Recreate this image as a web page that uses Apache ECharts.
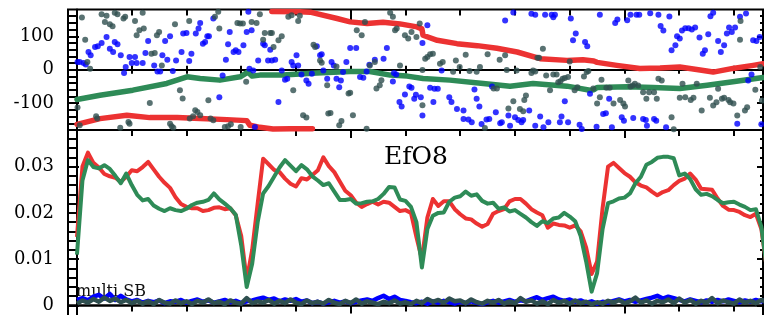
<!DOCTYPE html>
<html>
<head>
<meta charset="utf-8">
<script src="https://cdn.jsdelivr.net/npm/echarts@6/dist/echarts.min.js"></script>
<style>
  html, body { margin: 0; padding: 0; background: #fff; }
  #chart { width: 764px; height: 315px; }
</style>
</head>
<body>
<div id="chart"></div>
<script>
// ---- data (x in tick units, top panel in degrees) ----
var redTopLow = [[0,-163],[0.42,-146],[0.91,-136],[1.33,-143],[1.83,-143],[2.25,-146],[2.74,-149],[3.10,-152],
  [3.16,-166],[3.34,-172],[3.58,-177],[3.9,-176],[4.3,-176]];
var redTopHigh = [[3.56,174],[4.07,173],[4.26,172],[4.75,153],[4.99,143],[5.30,138],[5.59,142],[5.90,137],[6.21,128],[6.30,122],
  [6.32,103],[6.58,88],[6.94,78],[7.31,72],[7.67,64],[8.04,53],[8.46,33],[8.95,28],[9.24,30],[9.44,26],[9.50,22],
  [9.86,13],[10.28,4],[10.65,5],[11.01,8],[11.38,-1],[11.62,-7],[11.98,4],[12.35,13],[12.53,18]];
var greenTop = [[0,-89],[0.42,-76],[1.02,-61],[1.64,-41],[2.01,-21],[2.25,-26],[2.61,-31],[2.98,-21],[3.12,-7],[3.20,-19],
  [3.34,-16],[3.76,-16],[4.38,-10],[4.99,-5],[5.35,-5],[5.72,-16],[6.03,-19],[6.32,-26],[6.81,-31],[7.42,-41],[7.91,-49],
  [8.33,-41],[8.95,-49],[9.37,-61],[9.44,-60],[9.50,-53],[10.05,-51],[10.52,-53],[11.01,-56],[11.51,-46],[11.98,-36],[12.53,-23]];

var blueDots = [[0.01,23],[0.05,23],[0.12,20],[0.16,16],[0.21,53],[0.25,43],[0.33,68],[0.38,70],[0.45,80],[0.54,98],[0.60,63],[0.66,53],
  [0.69,83],[0.74,76],[0.80,43],[0.86,-10],[0.89,8],[0.96,38],[1.00,20],[1.06,38],[1.09,20],[1.20,20],[1.25,50],[1.30,86],[1.41,13],
  [1.47,-5],[1.52,-5],[1.56,43],[1.61,86],[1.65,30],[1.70,100],[1.75,-4],[1.81,28],[1.91,53],[1.94,108],[2.00,110],[2.05,26],[2.09,48],
  [2.17,108],[2.22,123],[2.25,140],[2.30,78],[2.34,83],[2.38,100],[2.41,100],[2.49,153],[2.60,-82],[2.66,-17],[2.72,30],[2.76,76],
  [2.79,113],[2.86,53],[2.90,58],[2.95,53],[3.04,73],[3.10,113],[3.13,173],[3.15,3],[3.25,-171],[3.31,28],[3.19,118],[3.22,-2],
  [3.40,78],[3.43,73],[3.49,28],[3.53,60],[3.56,28],[3.62,30],[3.68,-96],[3.74,-2],[3.80,-30],[3.84,-27],[3.92,23],[3.95,13],
  [4.01,43],[4.04,13],[4.10,-14],[4.19,-32],[4.23,-42],[4.29,-12],[4.38,70],[4.44,43],[4.47,46],[4.50,-2],[4.57,-27],[4.65,23],
  [4.69,13],[4.74,-27],[4.79,-52],[4.82,-32],[4.86,-7],[4.92,23],[4.99,65],[5.10,65],[5.17,-22],[5.23,-24],[5.29,-5],[5.34,15],
  [5.44,30],[5.60,33],[5.66,65],[5.77,-35],[5.79,-10],[5.83,-14],[5.89,-96],[5.93,-110],[5.99,-74],[6.07,-50],[6.11,-54],[6.16,-87],
  [6.19,-75],[6.28,-82],[6.31,-137],[6.31,80],[6.40,133],[6.45,-54],[6.51,-96],[6.53,-57],[6.59,-57],[6.66,-2],[6.80,-82],[6.84,-96],
  [6.94,-117],[7.06,-122],[7.06,-147],[7.15,-149],[7.21,-157],[7.26,-59],[7.30,-87],[7.35,-110],[7.39,-162],[7.48,-149],[7.53,-147],
  [7.58,-50],[7.65,-127],[7.73,-160],[7.82,147],[7.88,-137],[7.97,171],[8.30,167],[8.37,164],[7.76,-157],[7.91,-167],[8.00,-142],
  [8.06,-150],[8.12,-157],[8.15,-150],[8.26,-122],[8.37,-167],[8.46,-140],[8.52,-172],[8.61,-157],[8.55,164],[8.67,164],[8.73,164],
  [8.70,157],[8.82,-157],[8.85,-140],[8.97,-157],[8.91,-94],[9.02,153],[9.06,88],[9.11,108],[9.18,-164],[9.22,-177],[9.28,83],
  [9.32,70],[9.37,-72],[9.49,-170],[9.55,164],[9.61,-132],[9.66,-130],[9.72,-87],[9.77,-172],[9.83,140],[9.87,150],[9.95,-142],
  [9.99,-152],[10.05,148],[10.11,164],[10.22,164],[10.27,164],[10.16,-144],[10.34,-147],[10.39,-150],[10.41,-167],[10.47,169],
  [10.54,-147],[10.58,-152],[10.62,164],[10.66,131],[10.71,117],[10.76,-172],[10.82,159],[10.86,58],[10.93,73],[10.96,100],
  [11.01,93],[11.05,117],[11.11,124],[11.17,124],[11.23,120],[11.29,126],[11.37,96],[11.43,48],[11.47,58],[11.53,106],[11.57,160],
  [11.62,170],[11.71,86],[11.76,53],[11.82,73],[11.87,108],[11.91,126],[11.96,113],[12.02,126],[12.06,-161],[12.11,158],[12.22,168],
  [12.26,-32],[12.32,-14],[12.35,88],[12.41,86],[12.47,98],[12.50,-163]];

var grayDots = [[0.01,-113],[0.05,-166],[0.09,156],[0.15,90],[0.19,23],[0.24,3],[0.35,-139],[0.37,-146],[0.45,166],[0.54,161],[0.51,143],
  [0.60,136],[0.65,130],[0.69,170],[0.74,166],[0.85,153],[0.88,158],[0.79,-173],[0.94,-156],[0.96,-161],[1.06,146],[1.09,103],
  [1.14,118],[1.22,123],[1.20,170],[1.33,-99],[1.36,48],[1.42,50],[1.46,103],[1.50,113],[1.55,13],[1.70,-161],[1.73,-169],[1.76,-173],
  [1.79,136],[1.88,-61],[1.93,-86],[2.05,146],[2.06,-146],[2.12,-139],[2.16,-121],[2.20,-126],[2.25,-136],[2.40,-91],[2.44,-146],
  [2.49,-151],[2.52,158],[2.58,173],[2.60,123],[2.70,-171],[2.76,-169],[2.81,-163],[2.93,140],[2.98,138],[3.03,138],[2.99,-171],
  [3.09,-36],[3.19,143],[3.28,140],[3.34,166],[3.40,90],[3.43,110],[3.53,110],[3.56,110],[3.59,68],[3.68,88],[3.74,100],[3.86,158],
  [3.92,163],[4.07,161],[4.04,146],[3.95,-61],[4.13,-136],[4.19,-143],[4.32,75],[4.35,68],[4.44,28],[4.47,21],[4.57,-46],[4.59,-131],
  [4.63,-129],[4.74,10],[4.79,-166],[4.83,-153],[4.96,-71],[4.99,-69],[5.04,-136],[5.11,118],[5.20,103],[5.26,143],[5.29,-176],
  [5.35,13],[5.44,23],[5.47,-56],[5.53,-46],[5.56,-31],[5.72,170],[5.77,158],[5.81,118],[5.84,123],[5.90,13],[5.99,103],[6.05,93],
  [6.11,113],[6.20,98],[6.26,138],[6.31,-1],[6.31,-106],[6.36,33],[6.40,38],[6.45,46],[6.50,48],[6.63,18],[6.68,23],[6.87,-6],
  [6.92,28],[6.99,8],[7.10,45],[7.17,-4],[7.30,-6],[7.36,8],[7.45,-174],[7.50,46],[7.61,-56],[7.67,-56],[7.72,30],[7.85,-1],
  [7.88,-116],[7.82,43],[7.97,-94],[8.03,-2],[8.17,-90],[8.20,-77],[8.09,-117],[8.15,-124],[8.30,-10],[8.33,-2],[8.37,-5],[8.41,36],
  [8.44,36],[8.51,63],[8.57,-17],[8.64,-61],[8.70,-14],[8.76,-14],[8.79,-37],[8.83,-34],[8.87,-27],[8.91,-25],[8.97,-22],[9.00,25],
  [9.09,-61],[9.14,-52],[9.26,-20],[9.31,-7],[9.34,-4],[9.43,-56],[9.50,-101],[9.55,-82],[9.58,-30],[9.67,-54],[9.73,-54],[9.80,-101],
  [9.92,-90],[9.98,-101],[10.01,-110],[10.07,-32],[10.11,-50],[10.15,-47],[10.19,-42],[10.25,-47],[10.34,-67],[10.40,-87],[10.45,-67],
  [10.54,-67],[10.59,-87],[10.62,-27],[10.68,-32],[10.86,-142],[10.90,-178],[11.01,-84],[11.06,-42],[11.11,-82],[11.21,-90],
  [11.26,-84],[11.32,-42],[11.41,-122],[11.56,-84],[11.62,-107],[11.68,-97],[11.71,-57],[11.78,-87],[11.82,-84],[11.90,-90],
  [11.93,-97],[11.99,-101],[12.06,-137],[12.11,90],[12.12,146],[12.20,-122],[12.24,-112],[12.39,-60],[12.48,8],[12.51,-92]];

// bottom panel: one value every 0.1 x-unit, starting at x = 0
var step = 0.1;
var redEff = [0.0148,0.0300,0.0330,0.0308,0.0298,0.0284,0.0279,0.0276,0.0267,0.0278,
  0.0292,0.0290,0.0299,0.0310,0.0294,0.0278,0.0265,0.0254,0.0234,0.0219,
  0.0213,0.0210,0.0210,0.0204,0.0206,0.0211,0.0212,0.0208,0.0210,0.0195,
  0.0150,0.0055,0.0120,0.0220,0.0317,0.0305,0.0293,0.0288,0.0274,0.0263,
  0.0257,0.0275,0.0272,0.0282,0.0292,0.0320,0.0301,0.0288,0.0268,0.0248,
  0.0238,0.0222,0.0213,0.0219,0.0224,0.0218,0.0224,0.0222,0.0213,0.0204,
  0.0206,0.0200,0.0148,0.0100,0.0190,0.0230,0.0215,0.0225,0.0225,0.0208,
  0.0197,0.0188,0.0186,0.0177,0.0170,0.0176,0.0198,0.0204,0.0208,0.0225,
  0.0230,0.0230,0.0220,0.0208,0.0201,0.0195,0.0168,0.0177,0.0174,0.0173,
  0.0168,0.0173,0.0160,0.0125,0.0068,0.0095,0.0210,0.0300,0.0308,0.0297,
  0.0286,0.0278,0.0266,0.0259,0.0255,0.0246,0.0238,0.0245,0.0249,0.0260,
  0.0269,0.0274,0.0285,0.0272,0.0252,0.0251,0.0250,0.0231,0.0215,0.0207,
  0.0206,0.0202,0.0195,0.0191,0.0198,0.0165,0.0080];
var greenEff = [0.0110,0.0270,0.0314,0.0299,0.0296,0.0303,0.0295,0.0280,0.0264,0.0285,
  0.0260,0.0239,0.0227,0.0230,0.0216,0.0209,0.0204,0.0210,0.0206,0.0204,
  0.0209,0.0217,0.0222,0.0224,0.0228,0.0242,0.0229,0.0220,0.0210,0.0196,
  0.0130,0.0040,0.0090,0.0180,0.0242,0.0258,0.0278,0.0298,0.0314,0.0302,
  0.0290,0.0303,0.0294,0.0279,0.0270,0.0260,0.0264,0.0246,0.0228,0.0228,
  0.0230,0.0220,0.0221,0.0224,0.0225,0.0230,0.0241,0.0256,0.0255,0.0229,
  0.0226,0.0213,0.0180,0.0082,0.0165,0.0194,0.0200,0.0201,0.0224,0.0233,
  0.0236,0.0246,0.0237,0.0240,0.0226,0.0220,0.0222,0.0209,0.0212,0.0203,
  0.0206,0.0198,0.0190,0.0180,0.0172,0.0182,0.0178,0.0188,0.0190,0.0200,
  0.0192,0.0182,0.0150,0.0095,0.0030,0.0070,0.0165,0.0221,0.0225,0.0231,
  0.0233,0.0242,0.0264,0.0278,0.0304,0.0310,0.0319,0.0321,0.0321,0.0318,
  0.0281,0.0285,0.0273,0.0251,0.0239,0.0241,0.0236,0.0228,0.0221,0.0223,
  0.0224,0.0218,0.0213,0.0206,0.0208,0.0170,0.0080];
var blueSB = [0.0012,0.0016,0.0011,0.0019,0.0023,0.0015,0.0025,0.0012,0.0021,0.0013,
  0.0009,0.0012,0.0006,0.0010,0.0007,0.0011,0.0005,0.0009,0.0008,0.0012,
  0.0006,0.0010,0.0013,0.0008,0.0011,0.0006,0.0009,0.0012,0.0007,0.0010,
  0.0005,0.0009,0.0011,0.0014,0.0017,0.0012,0.0015,0.0009,0.0013,0.0010,
  0.0014,0.0008,0.0011,0.0005,0.0008,0.0004,0.0007,0.0010,0.0006,0.0009,
  0.0005,0.0008,0.0011,0.0013,0.0010,0.0016,0.0021,0.0014,0.0019,0.0012,
  0.0010,0.0007,0.0005,0.0008,0.0004,0.0009,0.0006,0.0010,0.0007,0.0004,
  0.0008,0.0005,0.0009,0.0006,0.0003,0.0007,0.0010,0.0006,0.0009,0.0012,
  0.0008,0.0011,0.0009,0.0014,0.0018,0.0012,0.0016,0.0019,0.0013,0.0010,
  0.0013,0.0008,0.0011,0.0006,0.0009,0.0004,0.0008,0.0006,0.0010,0.0013,
  0.0009,0.0012,0.0008,0.0011,0.0014,0.0017,0.0021,0.0015,0.0019,0.0016,
  0.0012,0.0009,0.0013,0.0010,0.0007,0.0011,0.0008,0.0012,0.0009,0.0013,
  0.0010,0.0007,0.0011,0.0008,0.0012,0.0009,0.0011];
var graySB = [0.0004,0.0011,0.0006,0.0014,0.0008,0.0017,0.0010,0.0015,0.0007,0.0012,
  0.0005,0.0010,0.0004,0.0009,0.0003,0.0012,0.0006,0.0004,0.0011,0.0005,
  0.0009,0.0003,0.0010,0.0006,0.0013,0.0005,0.0008,0.0003,0.0011,0.0006,
  0.0004,0.0016,0.0005,0.0009,0.0006,0.0012,0.0004,0.0010,0.0005,0.0013,
  0.0006,0.0003,0.0011,0.0005,0.0008,0.0004,0.0012,0.0006,0.0003,0.0010,
  0.0005,0.0013,0.0004,0.0009,0.0006,0.0003,0.0008,0.0005,0.0011,0.0004,
  0.0007,0.0003,0.0010,0.0005,0.0014,0.0008,0.0012,0.0006,0.0015,0.0009,
  0.0011,0.0005,0.0013,0.0007,0.0004,0.0010,0.0006,0.0012,0.0004,0.0009,
  0.0005,0.0016,0.0008,0.0011,0.0004,0.0009,0.0003,0.0012,0.0006,0.0010,
  0.0004,0.0011,0.0005,0.0008,0.0003,0.0007,0.0004,0.0010,0.0006,0.0012,
  0.0005,0.0009,0.0017,0.0006,0.0011,0.0004,0.0010,0.0007,0.0013,0.0005,
  0.0015,0.0006,0.0012,0.0004,0.0010,0.0006,0.0016,0.0005,0.0011,0.0007,
  0.0004,0.0013,0.0006,0.0010,0.0005,0.0012,0.0007];

// tick positions
var xMajor = [0, 5, 10];
var xMinor = [1, 2, 3, 4, 6, 7, 8, 9, 11, 12];
var xAll = [0, 1, 2, 3, 4, 5, 6, 7, 8, 9, 10, 11, 12];
var degMajor = [-100, 0, 100];
var degMinor = [-160, -140, -120, -80, -60, -40, -20, 20, 40, 60, 80, 120, 140, 160];
var effMajor = [0, 0.01, 0.02, 0.03];
var effMinor = [0.002, 0.004, 0.006, 0.008, 0.012, 0.014, 0.016, 0.018, 0.022, 0.024, 0.026, 0.028, 0.032, 0.034, 0.036];

var RED = '#ec3232', GREEN = '#2e8b57', BLUE = '#0000ff', SLATE = '#2f4f4f';
var xMin = -0.164, xMax = 12.53;

function toPairs(arr) {
  return arr.map(function (v, i) { return [i * step, v]; });
}

function xAx(grid, ticks, len, pos, inside, onZero) {
  return {
    type: 'value', gridIndex: grid, position: pos || 'top', min: xMin, max: xMax,
    axisLine: { show: !!onZero, onZero: !!onZero, lineStyle: { color: '#000', width: 2 } },
    axisTick: { show: true, inside: inside !== false, length: len, customValues: ticks,
      lineStyle: { color: '#000', width: 2 } },
    axisLabel: { show: false },
    splitLine: { show: false }
  };
}

function yAx(grid, pos, min, max, ticks, len, labels) {
  return {
    type: 'value', gridIndex: grid, position: pos, min: min, max: max,
    axisLine: { show: false, onZero: false },
    axisTick: { show: true, inside: true, length: len, customValues: ticks,
      lineStyle: { color: '#000', width: 2 } },
    axisLabel: labels ? { show: true, customValues: labels, fontFamily: 'DejaVu Serif',
      fontSize: 18, color: '#000', margin: 14 } : { show: false },
    splitLine: { show: false }
  };
}

function yZero(grid, min, max) {
  return {
    type: 'value', gridIndex: grid, min: min, max: max,
    axisLine: { show: true, onZero: true, lineStyle: { color: '#000', width: 2 } },
    axisTick: { show: false }, axisLabel: { show: false }, splitLine: { show: false }
  };
}

var myChart = echarts.init(document.getElementById('chart'));
var gridStyle = { show: true, borderColor: '#000', borderWidth: 2, left: 68, width: 695 };

var option = {
  animation: false,
  backgroundColor: '#fff',
  grid: [
    Object.assign({ top: 9.5, height: 120.5 }, gridStyle),
    Object.assign({ top: 130, height: 175.5 }, gridStyle),
    Object.assign({ top: 305.5, height: 100 }, gridStyle)
  ],
  xAxis: [
    xAx(0, xMajor, 11),
    xAx(0, xMinor, 6),
    xAx(0, xAll, 4, 'bottom', true, true),
    xAx(0, xAll, 4, 'bottom', false, true),
    xAx(1, xMajor, 8),
    xAx(1, xMinor, 6),
    xAx(2, xMajor, 8),
    xAx(2, xMinor, 6)
  ],
  yAxis: [
    yAx(0, 'left', -180, 180, degMajor, 11, degMajor),
    yAx(0, 'left', -180, 180, degMinor, 8),
    yAx(0, 'right', -180, 180, degMajor, 6),
    yAx(0, 'right', -180, 180, degMinor, 3),
    yZero(0, -180, 180),
    yAx(1, 'left', 0, 0.0379, effMajor, 11, effMajor),
    yAx(1, 'left', 0, 0.0379, effMinor, 8),
    yAx(1, 'right', 0, 0.0379, effMajor, 6),
    yAx(1, 'right', 0, 0.0379, effMinor, 3),
    yZero(1, 0, 0.0379),
    yZero(2, -1, 1)
  ],
  series: [
    { type: 'line', xAxisIndex: 0, yAxisIndex: 0, data: redTopLow, showSymbol: false,
      lineStyle: { color: RED, width: 5.5, cap: 'round', join: 'round' } },
    { type: 'line', xAxisIndex: 0, yAxisIndex: 0, data: redTopHigh, showSymbol: false,
      lineStyle: { color: RED, width: 5.5, cap: 'round', join: 'round' } },
    { type: 'line', xAxisIndex: 0, yAxisIndex: 0, data: greenTop, showSymbol: false,
      lineStyle: { color: GREEN, width: 5.5, cap: 'round', join: 'round' } },
    { type: 'scatter', xAxisIndex: 0, yAxisIndex: 0, data: blueDots, symbolSize: 6,
      itemStyle: { color: BLUE }, z: 3 },
    { type: 'scatter', xAxisIndex: 0, yAxisIndex: 0, data: grayDots, symbolSize: 6,
      itemStyle: { color: SLATE }, z: 3 },

    { type: 'line', xAxisIndex: 4, yAxisIndex: 5, data: toPairs(redEff), showSymbol: false,
      lineStyle: { color: RED, width: 4, join: 'round' } },
    { type: 'line', xAxisIndex: 4, yAxisIndex: 5, data: toPairs(greenEff), showSymbol: false,
      lineStyle: { color: GREEN, width: 4, join: 'round' } },
    { type: 'line', xAxisIndex: 4, yAxisIndex: 5, data: toPairs(blueSB), showSymbol: false,
      lineStyle: { color: BLUE, width: 4.5, join: 'round' } },
    { type: 'line', xAxisIndex: 4, yAxisIndex: 5, data: toPairs(graySB), showSymbol: false,
      lineStyle: { color: SLATE, width: 4.5, join: 'round' } }
  ],
  graphic: [
    { type: 'text', x: 384, y: 157.5, z: 10,
      style: { text: 'EfO8', font: '25px "DejaVu Serif"', fill: '#000', align: 'left', verticalAlign: 'middle' } },
    { type: 'text', x: 76, y: 292, z: 0,
      style: { text: 'multi SB', font: '16px "DejaVu Serif"', fill: '#111', align: 'left', verticalAlign: 'middle' } }
  ]
};

myChart.setOption(option);
</script>
</body>
</html>
